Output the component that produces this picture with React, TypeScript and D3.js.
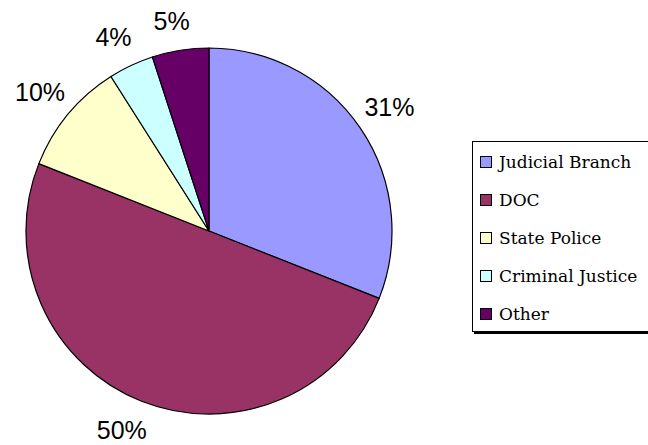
import React, { useEffect, useRef } from 'react';
import * as d3 from 'd3';

const categories = ['Judicial Branch', 'DOC', 'State Police', 'Criminal Justice', 'Other'];
const shares = [31, 50, 10, 4, 5];
const colors = ['#9999FF', '#993366', '#FFFFCC', '#CCFFFF', '#660066'];

const App: React.FC = () => {
  const svgRef = useRef<SVGSVGElement>(null);

  useEffect(() => {
    if (!svgRef.current) return;
    const svg = d3.select(svgRef.current);
    svg.selectAll('*').remove();

    const cx = 209;
    const cy = 231;
    const radius = 183;
    const labelRadius = 203;

    const pie = d3
      .pie<number>()
      .sort(null)
      .value((d) => d);
    const arcs = pie(shares);

    const arc = d3.arc<d3.PieArcDatum<number>>().innerRadius(0).outerRadius(radius);

    const g = svg.append('g').attr('transform', `translate(${cx},${cy})`);

    g.selectAll('path')
      .data(arcs)
      .enter()
      .append('path')
      .attr('d', arc)
      .attr('fill', (_, i) => colors[i])
      .attr('stroke', '#000')
      .attr('stroke-width', 1.2)
      .attr('stroke-linejoin', 'round');

    // label box pushed outward from a point just outside the rim
    const labels = g
      .selectAll('.pct')
      .data(arcs)
      .enter()
      .append('text')
      .attr('class', 'pct')
      .attr('text-anchor', 'middle')
      .attr('dominant-baseline', 'central')
      .style('font-family', 'Liberation Sans, Arial, sans-serif')
      .style('font-size', '25px')
      .attr('fill', '#000')
      .text((d) => `${d.data}%`);

    labels.each(function (d) {
      const el = this as SVGTextElement;
      const w = el.getComputedTextLength();
      const h = 20;
      const mid = (d.startAngle + d.endAngle) / 2;
      const s = Math.sin(mid);
      const c = Math.cos(mid);
      const kx = Math.max(-0.5, Math.min(0.5, s * 2));
      const ky = Math.max(-1, Math.min(1, c * 2));
      d3.select(el)
        .attr('x', labelRadius * s + (kx * w) / 2)
        .attr('y', -labelRadius * c - (ky * h) / 2);
    });

    // legend
    const lx = 472;
    const ly = 141;
    const legend = svg.append('g');
    legend
      .append('rect')
      .attr('x', lx + 2)
      .attr('y', ly + 2)
      .attr('width', 200)
      .attr('height', 191)
      .attr('fill', '#000');
    legend
      .append('rect')
      .attr('x', lx + 0.5)
      .attr('y', ly + 0.5)
      .attr('width', 200)
      .attr('height', 190)
      .attr('fill', '#fff')
      .attr('stroke', '#000')
      .attr('stroke-width', 1);

    const rowY = d3
      .scalePoint<string>()
      .domain(categories)
      .range([ly + 21, ly + 173]);

    const items = legend
      .selectAll('.item')
      .data(categories)
      .enter()
      .append('g')
      .attr('class', 'item')
      .attr('transform', (d) => `translate(${lx + 8},${rowY(d)})`);

    items
      .append('rect')
      .attr('x', 0.5)
      .attr('y', -5.5)
      .attr('width', 11)
      .attr('height', 11)
      .attr('fill', (_, i) => colors[i])
      .attr('stroke', '#000')
      .attr('stroke-width', 1);

    items
      .append('text')
      .attr('x', 19)
      .attr('y', 0)
      .attr('dominant-baseline', 'central')
      .attr('font-family', "'DejaVu Serif', 'Liberation Serif', serif")
      .attr('font-size', 17)
      .attr('fill', '#000')
      .text((d) => d);
  }, []);

  return (
    <svg
      ref={svgRef}
      width={648}
      height={445}
      style={{ position: 'absolute', left: 0, top: 0, background: '#fff' }}
    />
  );
};

export default App;
